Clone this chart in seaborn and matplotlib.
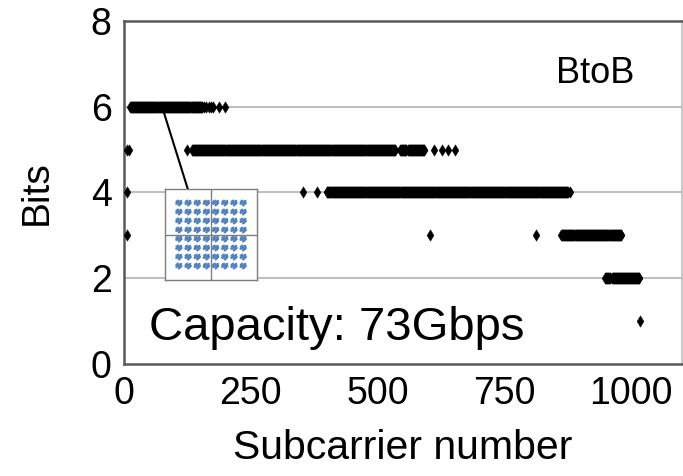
import numpy as np
import pandas as pd
import matplotlib
matplotlib.use("Agg")
import matplotlib.pyplot as plt
import seaborn as sns

# Bit loading per subcarrier, stored as runs of consecutive subcarriers
run_bits = [6, 5, 5, 5, 4, 3, 2, 2]
run_start = [12, 134, 544, 560, 400, 862, 949, 962]
run_end = [154, 535, 556, 592, 875, 980, 958, 1016]

# Isolated subcarriers
single_x = [157, 162, 167, 172, 176, 188, 200,
            5, 9, 125, 612, 626, 638, 652,
            5, 352, 380, 880,
            5, 604, 813,
            1018]
single_bits = [6, 6, 6, 6, 6, 6, 6,
               5, 5, 5, 5, 5, 5, 5,
               4, 4, 4, 4,
               3, 3, 3,
               1]

# 64QAM constellation for the inset
qam_levels = [-7, -5, -3, -1, 1, 3, 5, 7]
cluster_dx = [-0.5, -0.2, 0.1, 0.35, 0.55, -0.4, 0.25, 0.0, -0.15, 0.3, -0.55, 0.45]
cluster_dy = [0.3, 0.5, 0.15, 0.35, 0.0, -0.1, -0.3, -0.5, 0.05, -0.2, -0.15, 0.45]

xs, ys = [], []
for b, s, e in zip(run_bits, run_start, run_end):
    n = np.arange(s, e + 1)
    xs.extend(n)
    ys.extend([b] * len(n))
xs.extend(single_x)
ys.extend(single_bits)
df = pd.DataFrame({"Subcarrier": xs, "Bits": ys})

sns.set_style("white")
plt.rcParams["font.family"] = ["Liberation Sans", "DejaVu Sans"]
plt.rcParams["text.color"] = "black"
plt.rcParams["axes.labelcolor"] = "black"

fig = plt.figure(figsize=(6.83, 4.76), dpi=100)
ax = fig.add_axes([0.1816, 0.2353, 0.817, 0.7206])

ax.set_xlim(0, 1100)
ax.set_ylim(0, 8)
ax.set_xticks([0, 250, 500, 750, 1000])
ax.set_yticks([0, 2, 4, 6, 8])
for gy in [2, 4, 6]:
    ax.axhline(gy, color="#bfbfbf", lw=1.5, zorder=0)

sns.scatterplot(data=df, x="Subcarrier", y="Bits", ax=ax, marker="d",
                s=34, color="black", edgecolor="black", linewidth=0.3, zorder=3)

ax.tick_params(axis="both", direction="in", length=6, width=1.2,
               colors="#595959", labelcolor="black", labelsize=27)
ax.tick_params(axis="x", pad=9)
ax.tick_params(axis="y", pad=9)
for side in ["left", "bottom", "top"]:
    ax.spines[side].set_color("#595959")
    ax.spines[side].set_linewidth(1.8)
ax.spines["right"].set_color("#bfbfbf")
ax.spines["right"].set_linewidth(1.2)

ax.set_xlabel("Subcarrier number", fontsize=29.5, labelpad=12)
ax.set_ylabel("Bits", fontsize=28, labelpad=26)

ax.text(0.775, 0.82, "BtoB", transform=ax.transAxes, fontsize=26)
ax.text(0.045, 0.07, "Capacity: 73Gbps", transform=ax.transAxes, fontsize=34)

# leader line to inset
ax.plot([75, 126], [6.0, 4.07], color="black", lw=1.5, zorder=4)

# inset constellation
ins = ax.inset_axes([81, 1.97, 181, 2.1], transform=ax.transData, zorder=5)
cx, cy = [], []
for lx in qam_levels:
    for ly in qam_levels:
        for dx, dy in zip(cluster_dx, cluster_dy):
            cx.append(lx + dx)
            cy.append(ly + dy)
sns.scatterplot(x=cx, y=cy, ax=ins, s=3, color="#4f81bd", edgecolor="none")
ins.axhline(0, color="#7f7f7f", lw=1)
ins.axvline(0, color="#7f7f7f", lw=1)
ins.set_xlim(-10, 10)
ins.set_ylim(-10, 10)
ins.set_xticks([])
ins.set_yticks([])
ins.set_facecolor("white")
for sp in ins.spines.values():
    sp.set_color("#7f7f7f")
    sp.set_linewidth(1)

fig.savefig("out.png", dpi=100)
